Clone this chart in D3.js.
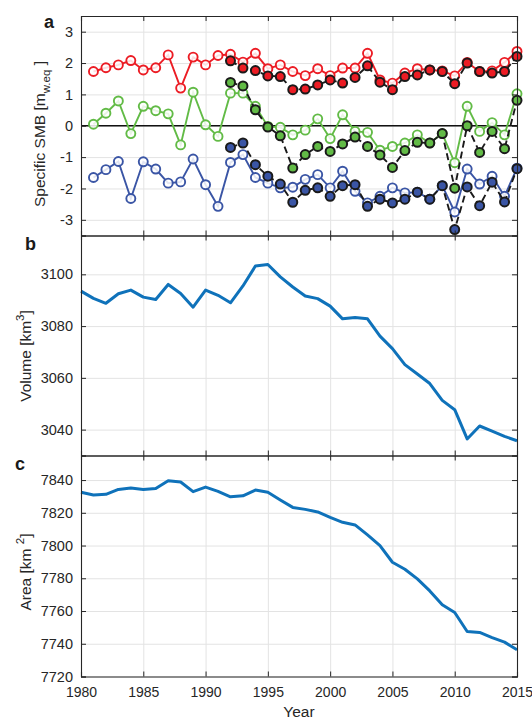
<!DOCTYPE html>
<html>
<head>
<meta charset="utf-8">
<script src="https://cdn.jsdelivr.net/npm/d3@7"></script>
<style>
  html, body { margin: 0; padding: 0; background: #fff; }
  svg { display: block; font-family: "Liberation Sans", Arial, Helvetica, sans-serif; }
</style>
</head>
<body>
<svg id="chart" width="532" height="720"></svg>
<script>
// ---- Data ----------------------------------------------------------------
const smbYears = d3.range(1981, 2016);       // open-marker series
const modelYears = d3.range(1992, 2016);     // filled-marker series

// Specific surface mass balance (m w.eq)
const accumOpen = [1.73, 1.85, 1.94, 2.08, 1.78, 1.85, 2.26, 1.20, 2.19, 1.94,
  2.24, 2.28, 2.03, 2.31, 1.82, 1.94, 1.73, 1.60, 1.82, 1.60, 1.84, 1.84, 2.31,
  1.46, 1.36, 1.68, 1.82, 1.78, 1.75, 1.59, 2.02, 1.73, 1.75, 2.02, 2.37];
const accumFilled = [2.07, 1.84, 1.76, 1.59, 1.57, 1.15, 1.17, 1.30, 1.46, 1.36,
  1.54, 1.91, 1.39, 1.15, 1.57, 1.62, 1.78, 1.73, 1.34, 2.00, 1.73, 1.68, 1.73, 2.21];

const netOpen = [0.05, 0.40, 0.79, -0.25, 0.62, 0.48, 0.38, -0.61, 1.07, 0.03,
  -0.34, 1.04, 1.04, 0.62, -0.02, -0.05, -0.29, -0.14, 0.22, -0.41, 0.35, -0.18,
  -0.21, -0.78, -0.66, -0.55, -0.29, -0.55, -0.25, -1.18, 0.62, -0.18, 0.10, -0.29, 1.02];
const netFilled = [1.38, 1.27, 0.51, -0.04, -0.32, -1.35, -0.92, -0.66, -0.82, -0.58,
  -0.36, -0.66, -0.93, -1.33, -0.79, -0.53, -0.55, -0.25, -1.99, 0.00, -0.85, -0.18, -0.73, 0.81];

const ablationOpen = [-1.65, -1.40, -1.14, -2.32, -1.15, -1.38, -1.83, -1.79, -1.06,
  -1.88, -2.57, -1.17, -0.92, -1.65, -1.83, -1.98, -1.96, -1.71, -1.56, -1.98, -1.45,
  -2.09, -2.46, -2.25, -1.98, -2.14, -2.12, -2.34, -1.91, -2.75, -1.38, -1.86, -1.61, -2.25, -1.35];
const ablationFilled = [-0.69, -0.55, -1.24, -1.61, -1.86, -2.44, -2.06, -1.98, -2.25,
  -1.91, -1.88, -2.57, -2.34, -2.46, -2.34, -2.12, -2.34, -1.91, -3.31, -1.95, -2.55, -1.80, -2.43, -1.37];

// Ice volume (km^3) and area (km^2), 1980-2015
const geomYears = d3.range(1980, 2016);
const volume = [3093.5, 3090.7, 3088.8, 3092.5, 3093.9, 3091.2, 3090.3, 3096.1, 3092.6,
  3087.3, 3093.9, 3091.9, 3089.0, 3095.5, 3103.2, 3103.8, 3099.0, 3095.1, 3091.6, 3090.6,
  3087.7, 3082.8, 3083.3, 3082.8, 3076.1, 3071.3, 3065.1, 3061.5, 3057.8, 3051.3, 3047.7,
  3036.4, 3041.4, 3039.4, 3037.4, 3035.7];
const area = [7832.5, 7830.9, 7831.3, 7834.3, 7835.1, 7834.3, 7834.9, 7839.6, 7838.8,
  7832.9, 7835.7, 7833.1, 7829.8, 7830.4, 7833.9, 7832.5, 7827.8, 7823.3, 7822.1, 7820.5,
  7817.2, 7814.2, 7812.6, 7806.5, 7800.0, 7789.8, 7785.5, 7779.6, 7772.3, 7763.8, 7759.1,
  7747.5, 7746.9, 7743.8, 7741.0, 7736.3];

const xTicks = d3.range(1980, 2016, 5);
const smbTicks = [-3, -2, -1, 0, 1, 2, 3];
const volumeTicks = [3040, 3060, 3080, 3100];
const areaTicks = [7720, 7740, 7760, 7780, 7800, 7820, 7840];

// ---- Layout --------------------------------------------------------------
const svg = d3.select("#chart");
const left = 81, right = 517;
const textColor = "#262626";
const x = d3.scaleLinear().domain([1980, 2015]).range([left, right]);

const panels = [
  { top: 16, bottom: 235.5, domain: [-3.5, 3.5], ticks: smbTicks, letter: "a", lx: 44, ly: 28 },
  { top: 235.5, bottom: 455.5, domain: [3030, 3115], ticks: volumeTicks, letter: "b", lx: 25, ly: 250 },
  { top: 455.5, bottom: 676.5, domain: [7720, 7855], ticks: areaTicks, letter: "c", lx: 15, ly: 470 }
];
panels.forEach(p => { p.y = d3.scaleLinear().domain(p.domain).range([p.bottom, p.top]); });

// Gridlines first
panels.forEach(p => {
  const g = svg.append("g");
  g.append("g")
    .attr("transform", `translate(0,${p.bottom})`)
    .call(d3.axisBottom(x).tickValues(xTicks).tickSize(-(p.bottom - p.top)).tickFormat(""))
    .call(s => s.select(".domain").remove())
    .call(s => s.selectAll("line").attr("stroke", "#e3e3e3").attr("stroke-width", 1));
  g.append("g")
    .attr("transform", `translate(${left},0)`)
    .call(d3.axisLeft(p.y).tickValues(p.ticks).tickSize(-(right - left)).tickFormat(""))
    .call(s => s.select(".domain").remove())
    .call(s => s.selectAll("line").attr("stroke", "#e3e3e3").attr("stroke-width", 1));
});

// ---- Panel a: specific SMB -----------------------------------------------
const pa = panels[0];
svg.append("line")
  .attr("x1", left).attr("x2", right)
  .attr("y1", pa.y(0)).attr("y2", pa.y(0))
  .attr("stroke", "#111").attr("stroke-width", 1.3);

const smbLine = d3.line().x(d => x(d[0])).y(d => pa.y(d[1]));
const series = [
  { color: "#ec1c24", open: accumOpen, filled: accumFilled },
  { color: "#62bb46", open: netOpen, filled: netFilled },
  { color: "#3a55a5", open: ablationOpen, filled: ablationFilled }
];

series.forEach(s => {
  const pts = smbYears.map((yr, i) => [yr, s.open[i]]);
  svg.append("path").datum(pts)
    .attr("d", smbLine).attr("fill", "none")
    .attr("stroke", s.color).attr("stroke-width", 1.9);
  svg.append("g").selectAll("circle").data(pts).join("circle")
    .attr("cx", d => x(d[0])).attr("cy", d => pa.y(d[1])).attr("r", 4.5)
    .attr("fill", "#fff").attr("fill-opacity", 0.85)
    .attr("stroke", s.color).attr("stroke-width", 1.9);
});

series.forEach(s => {
  const pts = modelYears.map((yr, i) => [yr, s.filled[i]]);
  svg.append("path").datum(pts)
    .attr("d", smbLine).attr("fill", "none")
    .attr("stroke", "#1a1a1a").attr("stroke-width", 1.9)
    .attr("stroke-dasharray", "7,4");
  svg.append("g").selectAll("circle").data(pts).join("circle")
    .attr("cx", d => x(d[0])).attr("cy", d => pa.y(d[1])).attr("r", 4.5)
    .attr("fill", s.color)
    .attr("stroke", "#1a1a1a").attr("stroke-width", 2);
});

// ---- Panels b and c: volume and area --------------------------------------
[[panels[1], volume], [panels[2], area]].forEach(([p, vals]) => {
  const pts = geomYears.map((yr, i) => [yr, vals[i]]);
  svg.append("path").datum(pts)
    .attr("d", d3.line().x(d => x(d[0])).y(d => p.y(d[1])))
    .attr("fill", "none").attr("stroke", "#0f72ba")
    .attr("stroke-width", 3).attr("stroke-linejoin", "round");
});

// ---- Axes, box and inward ticks --------------------------------------------
panels.forEach((p, idx) => {
  const isLast = idx === panels.length - 1;
  const bottomAxis = svg.append("g")
    .attr("transform", `translate(0,${p.bottom})`)
    .call(d3.axisBottom(x).tickValues(xTicks).tickSize(-5).tickPadding(11)
      .tickFormat(isLast ? d3.format("d") : ""));
  const topAxis = svg.append("g")
    .attr("transform", `translate(0,${p.top})`)
    .call(d3.axisTop(x).tickValues(xTicks).tickSize(-5).tickFormat(""));
  const leftAxis = svg.append("g")
    .attr("transform", `translate(${left},0)`)
    .call(d3.axisLeft(p.y).tickValues(p.ticks).tickSize(-5).tickPadding(8)
      .tickFormat(idx === 0 ? (d => d < 0 ? "-" + Math.abs(d) : d) : d3.format("d")));
  const rightAxis = svg.append("g")
    .attr("transform", `translate(${right},0)`)
    .call(d3.axisRight(p.y).tickValues(p.ticks).tickSize(-5).tickFormat(""));
  [bottomAxis, topAxis, leftAxis, rightAxis].forEach(a => {
    a.select(".domain").attr("stroke", textColor).attr("stroke-width", 1.1);
    a.selectAll(".tick line").attr("stroke", textColor).attr("stroke-width", 1);
    a.selectAll(".tick text").attr("font-size", "14.5px").attr("fill", textColor)
      .attr("font-family", "'Liberation Sans', Arial, sans-serif");
  });
  bottomAxis.selectAll(".tick text").attr("font-size", "14px");

  svg.append("text")
    .attr("x", p.lx).attr("y", p.ly)
    .attr("font-size", "18px").attr("font-weight", "bold").attr("fill", "#1a1a1a")
    .text(p.letter);
});

// ---- Axis titles ----------------------------------------------------------
function yTitle(cx, cy, parts) {
  const t = svg.append("text")
    .attr("transform", `translate(${cx},${cy}) rotate(-90)`)
    .attr("text-anchor", "middle")
    .attr("font-size", "15.5px").attr("fill", textColor);
  parts.forEach(([str, shift, size]) => {
    t.append("tspan").attr("dy", shift).attr("font-size", size || "15.5px").text(str);
  });
  return t;
}
yTitle(45, 134, [["Specific SMB [m", 0], ["w.eq", 5, "11.5px"], [" ]", -5]]);
yTitle(31, 356, [["Volume [km", 0], ["3", -7, "11.5px"], ["]", 7]]);
yTitle(31, 572, [["Area [km ", 0], ["2", -7, "11.5px"], ["]", 7]]);

svg.append("text")
  .attr("x", (left + right) / 2).attr("y", 717)
  .attr("text-anchor", "middle")
  .attr("font-size", "15.5px").attr("fill", textColor)
  .text("Year");
</script>
</body>
</html>
